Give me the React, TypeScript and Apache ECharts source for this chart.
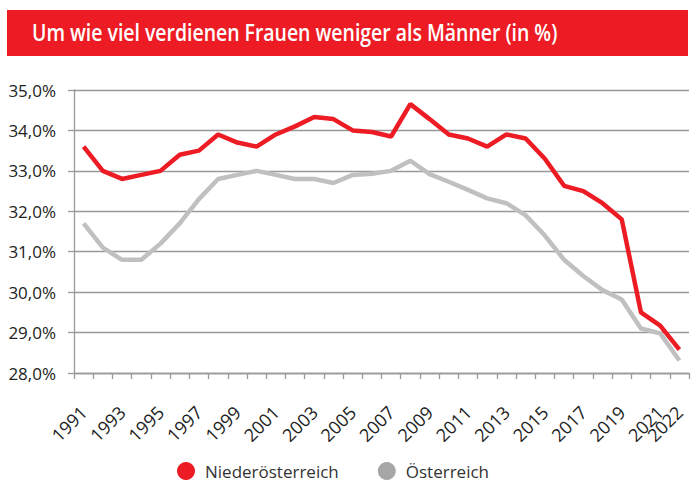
import React, { useEffect, useRef } from "react";
import * as echarts from "echarts";

const years: string[] = [
  "1991","1992","1993","1994","1995","1996","1997","1998","1999","2000",
  "2001","2002","2003","2004","2005","2006","2007","2008","2009","2010",
  "2011","2012","2013","2014","2015","2016","2017","2018","2019","2020",
  "2021","2022",
];

const shownYearLabels: string[] = [
  "1991","1993","1995","1997","1999","2001","2003","2005","2007","2009",
  "2011","2013","2015","2017","2019","2021","2022",
];

const niederoesterreich: number[] = [
  33.6, 33.0, 32.8, 32.9, 33.0, 33.4, 33.5, 33.9, 33.7, 33.6,
  33.9, 34.1, 34.33, 34.28, 34.0, 33.96, 33.85, 34.65, 34.28, 33.9,
  33.8, 33.6, 33.9, 33.8, 33.3, 32.63, 32.5, 32.2, 31.8, 29.5,
  29.17, 28.58,
];

const oesterreich: number[] = [
  31.7, 31.1, 30.8, 30.8, 31.2, 31.7, 32.3, 32.8, 32.9, 33.0,
  32.9, 32.8, 32.8, 32.7, 32.9, 32.93, 33.0, 33.25, 32.92, 32.73,
  32.53, 32.32, 32.2, 31.9, 31.4, 30.8, 30.4, 30.05, 29.82, 29.1,
  28.98, 28.31,
];

const titleText = "Um wie viel verdienen Frauen weniger als Männer (in %)";
const seriesNames = ["Niederösterreich", "Österreich"];

const RED = "#ed1c24";
const GREY_LINE = "#c0c0c0";
const GREY_ICON = "#a6a6a6";
const AXIS_GREY = "#999999";
const FONT = "'Open Sans', sans-serif";

export default function App() {
  const ref = useRef<HTMLDivElement>(null);

  useEffect(() => {
    document.body.style.margin = "0";
    if (!ref.current) return;
    const chart = echarts.init(ref.current, null, { renderer: "svg" });
    chart.setOption({
      animation: false,
      backgroundColor: "#ffffff",
      graphic: [
        {
          type: "rect",
          left: 7,
          top: 10,
          shape: { width: 681, height: 46 },
          style: { fill: "#ed1c24" },
          silent: true,
        },
        {
          type: "text",
          x: 32,
          y: 32,
          scaleX: 0.81,
          style: {
            text: titleText,
            fill: "#ffffff",
            font: "600 24px 'Open Sans', sans-serif",
            verticalAlign: "middle",
            align: "left",
          },
          silent: true,
        },
      ],
      grid: { left: 74, right: 8, top: 90, bottom: 110, containLabel: false },
      legend: {
        data: seriesNames,
        top: 462,
        left: 177,
        padding: 0,
        icon: "circle",
        itemWidth: 18,
        itemHeight: 18,
        itemGap: 39,
        textStyle: {
          fontFamily: FONT,
          fontSize: 17,
          color: "#333333",
          lineHeight: 18,
          padding: [0, 0, 0, 5],
        },
      },
      xAxis: {
        type: "category",
        data: years,
        boundaryGap: true,
        axisLine: { show: true, lineStyle: { color: AXIS_GREY, width: 1.3 } },
        axisTick: { show: true, length: 6, lineStyle: { color: AXIS_GREY, width: 1.3 }, interval: 0 },
        axisLabel: {
          interval: 0,
          rotate: 45,
          margin: 36,
          hideOverlap: false,
          formatter: (v: string) => (shownYearLabels.indexOf(v) >= 0 ? v : ""),
          fontFamily: FONT,
          fontSize: 18,
          color: "#222222",
        },
        splitLine: { show: false },
      },
      yAxis: {
        type: "value",
        min: 28,
        max: 35,
        interval: 1,
        axisLine: { show: true, lineStyle: { color: AXIS_GREY, width: 1.3 } },
        axisTick: { show: true, length: 6, lineStyle: { color: AXIS_GREY, width: 1.3 } },
        axisLabel: {
          margin: 18,
          fontFamily: FONT,
          fontSize: 17,
          color: "#222222",
          formatter: (v: number) => v.toFixed(1).replace(".", ",") + "%",
        },
        splitLine: { show: true, lineStyle: { color: AXIS_GREY, width: 1.3 } },
      },
      series: [
        {
          name: seriesNames[1],
          type: "line",
          data: oesterreich,
          showSymbol: false,
          symbol: "none",
          lineStyle: { color: GREY_LINE, width: 4.5 },
          itemStyle: { color: GREY_ICON },
          z: 2,
        },
        {
          name: seriesNames[0],
          type: "line",
          data: niederoesterreich,
          showSymbol: false,
          symbol: "none",
          lineStyle: { color: RED, width: 4.5 },
          itemStyle: { color: RED },
          z: 3,
        },
      ],
    });
    return () => chart.dispose();
  }, []);

  return <div ref={ref} style={{ width: 697, height: 483 }} />;
}
